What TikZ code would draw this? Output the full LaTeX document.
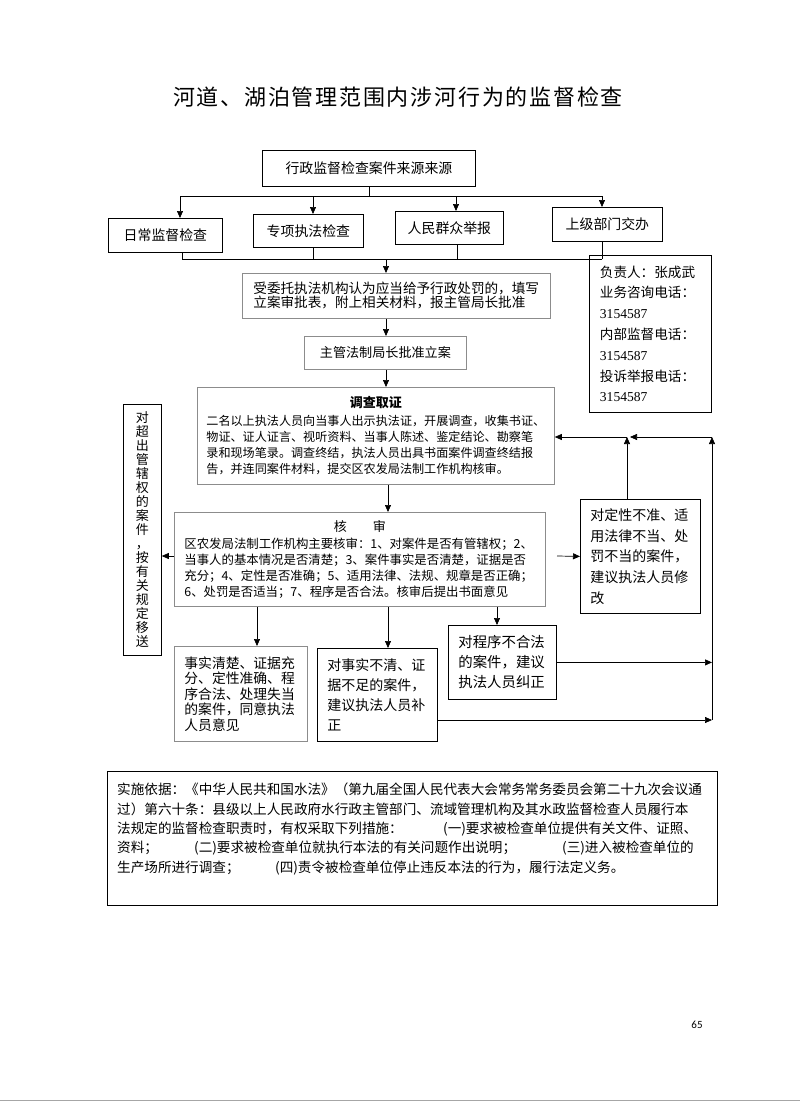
\documentclass[tikz,border=0pt]{standalone}
\usepackage{fontspec}
\setmainfont{Noto Sans CJK SC}
\newfontfamily\titlefont[LetterSpace=8]{Noto Sans CJK SC}
\newfontfamily\numfont{Liberation Serif}
\newfontfamily\pgfont{Carlito}
\usetikzlibrary{arrows.meta}
\newcommand{\fsz}[2]{\fontsize{#1pt}{#2pt}\selectfont}
\begin{document}
\begin{tikzpicture}[x=1pt,y=-1pt,
  bx/.style={draw=black, line width=0.8pt, inner sep=0pt, anchor=north west},
  gbx/.style={draw=black!45, line width=0.8pt, inner sep=0pt, anchor=north west},
  arr/.style={-{Triangle[length=7pt,width=6pt]}, line width=0.7pt},
  ln/.style={line width=0.7pt}]
\useasboundingbox (0,0) rectangle (800,1117);
\fill[white] (0,0) rectangle (800,1117);

% title
\node[font=\titlefont\fsz{22}{24}] (title) at (398,97) {河道、湖泊管理范围内涉河行为的监督检查};

% source box and branches
\node[bx, font=\fsz{13.9}{16}, minimum width=213, minimum height=36] (src) at (262,150) {行政监督检查案件来源来源};
\node[bx, font=\fsz{13.9}{16}, minimum width=114, minimum height=34] (b1) at (108,218) {日常监督检查};
\node[bx, font=\fsz{13.9}{16}, minimum width=110, minimum height=33] (b2) at (253,214) {专项执法检查};
\node[bx, font=\fsz{13.9}{16}, minimum width=108, minimum height=33] (b3) at (395,211) {人民群众举报};
\node[bx, font=\fsz{13.9}{16}, minimum width=110, minimum height=34] (b4) at (552,207) {上级部门交办};

\coordinate (t1) at (180,196);
\coordinate (t2) at (313,196);
\coordinate (t3) at (456,196);
\coordinate (t4) at (602,196);
\draw[ln] (src.south) -- (src.south |- t1);
\draw[ln] (t1) -- (t4);
\draw[arr] (t1) -- (t1 |- b1.north);
\draw[arr] (t2) -- (t2 |- b2.north);
\draw[arr] (t3) -- (t3 |- b3.north);
\draw[arr] (t4) -- (t4 |- b4.north);

\coordinate (u1) at (182,259);
\coordinate (u2) at (313,259);
\coordinate (u3) at (457,259);
\coordinate (u4) at (602,259);
\coordinate (u0) at (386,259);
\draw[ln] (b1.south -| u1) -- (u1);
\draw[ln] (b2.south -| u2) -- (u2);
\draw[ln] (b3.south -| u3) -- (u3);
\draw[ln] (b4.south -| u4) -- (u4);
\draw[ln] (u1) -- (u4);

% main chain
\node[gbx, font=\fsz{13.6}{14}, minimum width=308, minimum height=45, text width=286pt, inner xsep=11pt, align=left] (wt) at (242,273)
  {受委托执法机构认为应当给予行政处罚的，填写\\立案审批表，附上相关材料，报主管局长批准};
\draw[arr] (u0) -- (u0 |- wt.north);

\node[gbx, font=\fsz{13.1}{15}, minimum width=162, minimum height=33] (zg) at (304,336) {主管法制局长批准立案};
\draw[arr] (wt.south -| u0) -- (zg.north -| u0);

\node[gbx, font=\fsz{12.1}{16}, minimum width=357, minimum height=97, text width=339pt, inner xsep=9pt, align=left] (zc) at (197,387)
  {\makebox[\linewidth]{\fsz{13}{16}\bfseries 调查取证}\\[2pt]二名以上执法人员向当事人出示执法证，开展调查，收集书证、\\物证、证人证言、视听资料、当事人陈述、鉴定结论、勘察笔\\录和现场笔录。调查终结，执法人员出具书面案件调查终结报\\告，并连同案件材料，提交区农发局法制工作机构核审。};
\draw[arr] (zg.south -| u0) -- (zc.north -| u0);

\coordinate (m0) at (388,0);
\node[gbx, font=\fsz{12.4}{16}, minimum width=371, minimum height=94, text width=351pt, inner xsep=10pt, align=left] (hs) at (174,512)
  {\makebox[\linewidth]{\fsz{13}{16}核\hspace{2em}审}\\[1pt]区农发局法制工作机构主要核审：1、对案件是否有管辖权；2、\\当事人的基本情况是否清楚；3、案件事实是否清楚，证据是否\\充分；4、定性是否准确；5、适用法律、法规、规章是否正确；\\6、处罚是否适当；7、程序是否合法。核审后提出书面意见};
\draw[arr] (zc.south -| m0) -- (hs.north -| m0);

% left box
\node[bx, font=\fsz{13}{14}, minimum width=38, minimum height=251, text width=20pt, align=center] (lb) at (123,404)
  {对\\超\\出\\管\\辖\\权\\的\\案\\件\\，\\按\\有\\关\\规\\定\\移\\送};
\coordinate (la) at (174,556);
\draw[arr] (la) -- (la -| lb.east);

% contact box
\node[bx, font=\fsz{13.6}{20.8}, minimum width=122, minimum height=157, text width=101pt, inner xsep=10.5pt, align=left] (ct) at (589,255)
  {负责人：张成武\\业务咨询电话：\\{\numfont 3154587}\\内部监督电话：\\{\numfont 3154587}\\投诉举报电话：\\{\numfont 3154587}};

% right box
\node[bx, font=\fsz{14}{20.7}, minimum width=120, minimum height=114, text width=100pt, inner xsep=10pt, align=left] (dx) at (580,499)
  {对定性不准、适\\用法律不当、处\\罚不当的案件，\\建议执法人员修\\改};
\coordinate (ra) at (557,556);
\draw[arr] (ra) -- (dx.west);

% lower boxes
\node[gbx, font=\fsz{13.8}{15.5}, minimum width=133, minimum height=95, text width=113pt, inner xsep=10pt, align=left] (ax) at (174,646)
  {事实清楚、证据充\\分、定性准确、程\\序合法、处理失当\\的案件，同意执法\\人员意见};
\node[bx, font=\fsz{14}{20}, minimum width=120, minimum height=93, text width=100pt, inner xsep=10pt, align=left] (bx) at (317,648)
  {对事实不清、证\\据不足的案件，\\建议执法人员补\\正};
\node[bx, font=\fsz{14.4}{20}, minimum width=108, minimum height=74, text width=88pt, inner xsep=10pt, align=left] (cx) at (448,625)
  {对程序不合法\\的案件，建议\\执法人员纠正};

\coordinate (k1) at (257,0);
\coordinate (k2) at (388,0);
\coordinate (k3) at (497,0);
\draw[arr] (hs.south -| k1) -- (ax.north -| k1);
\draw[arr] (hs.south -| k2) -- (bx.north -| k2);
\draw[arr] (hs.south -| k3) -- (cx.north -| k3);

% feedback loops
\coordinate (f1) at (627,437);
\coordinate (f2) at (712,437);
\coordinate (g1) at (712,662);
\coordinate (g2) at (712,720);
\draw[arr] (f1 |- dx.north) -- (f1);
\draw[arr] (g2) -- (f2);
\draw[arr, shorten >=3pt] (f2) -- (f1);
\draw[arr] (f1) -- (f1 -| zc.east);
\draw[arr] (cx.east) -- (cx.east -| g1);
\draw[arr] (bx.east |- g2) -- (g2);

% legal basis box
\node[bx, minimum width=610, minimum height=134] (law) at (107,771) {};
\node[anchor=north west, inner sep=0pt, font=\fsz{13.6}{19.3}, text width=590pt, align=left] (lawtxt) at (117,783)
  {实施依据：《中华人民共和国水法》（第九届全国人民代表大会常务常务委员会第二十九次会议通\\
  过）第六十条：县级以上人民政府水行政主管部门、流域管理机构及其水政监督检查人员履行本\\
  \makebox[326pt][l]{法规定的监督检查职责时，有权采取下列措施：}(一)要求被检查单位提供有关文件、证照、\\
  \makebox[77pt][l]{资料；}\makebox[368pt][l]{(二)要求被检查单位就执行本法的有关问题作出说明；}(三)进入被检查单位的\\
  \makebox[158pt][l]{生产场所进行调查；}(四)责令被检查单位停止违反本法的行为，履行法定义务。};

% page number and page edge
\node[font=\pgfont\fsz{11}{12}] (pg) at (697,1025) {65};
\draw[black!35, line width=1pt] (0,1100) -- (800,1100);
\end{tikzpicture}
\end{document}
